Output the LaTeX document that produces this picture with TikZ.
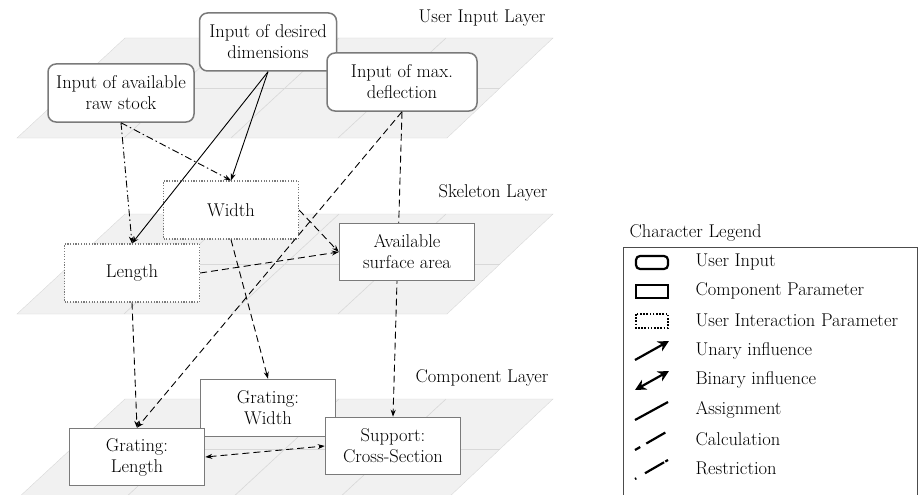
\documentclass[tikz,border=0pt]{standalone}
\usetikzlibrary{arrows.meta}
\pgfdeclarelayer{planes}
\pgfdeclarelayer{links}
\pgfsetlayers{planes,links,main}
\definecolor{planefill}{HTML}{F1F1F1}
\definecolor{planeline}{HTML}{D8D8D8}
\definecolor{boxline}{HTML}{7A7A7A}
\begin{document}
\begin{tikzpicture}[x=1pt,y=-1pt,>={Stealth[length=7pt,width=5pt]},font=\fontsize{18.5}{21}\selectfont]
  \tikzset{inputbox/.style={draw=boxline, line width=1.5pt, rounded corners=8pt, fill=white, minimum width=137pt, minimum height=58pt, align=center, inner sep=2pt},
    parambox/.style={draw=boxline, line width=1.5pt, fill=white, minimum width=135pt, minimum height=57pt, align=center, inner sep=2pt},
    interbox/.style={draw=boxline, line width=1.2pt, dash pattern=on 1.2pt off 1.5pt, fill=white, minimum width=135pt, minimum height=58pt, align=center, inner sep=2pt},
    assign/.style={line width=0.9pt},
    calcline/.style={line width=0.9pt, dash pattern=on 7pt off 4pt},
    restrict/.style={line width=0.9pt, dash pattern=on 7pt off 3pt on 1.5pt off 3pt},
    legsym/.style={line width=2.2pt}}
  \useasboundingbox (0,0) rectangle (918,495);
  \begin{pgfonlayer}{planes}
    \begin{scope}
      \clip (0,0) rectangle (918,495);
      \foreach \t in {38,214,399} {
        \filldraw[fill=planefill, draw=planeline] (125,\t) -- (553,\t) -- (447,{\t+100}) -- (17,{\t+100}) -- cycle;
        \draw[planeline, line width=0.6pt] (71,{\t+50}) -- (500,{\t+50});
        \foreach \x in {232,339,446}
          \draw[planeline, line width=0.6pt] (\x,\t) -- ({\x-108},{\t+100});
      }
      \draw[black!70, line width=1pt] (623,500) -- (623,247) -- (917,247) -- (917,500);
    \end{scope}
  \end{pgfonlayer}
  \node at (482,18) {User Input Layer};
  \node at (493,193) {Skeleton Layer};
  \node at (482,378) {Component Layer};
  \node[inputbox] (dims) at (268,42) {Input of desired\\dimensions};
  \node[inputbox, minimum width=146pt] (stock) at (121,93) {Input of available\\raw stock};
  \node[inputbox, minimum width=150pt] (defl) at (402,82) {Input of max.\\deflection};
  \node[interbox] (wid) at (231,210) {Width};
  \node[interbox] (len) at (132,273) {Length};
  \node[parambox] (area) at (407,252) {Available\\surface area};
  \node[parambox] (gwid) at (268,408) {Grating:\\Width};
  \node[parambox] (glen) at (137,457) {Grating:\\Length};
  \node[parambox] (supp) at (393,446) {Support:\\Cross-Section};
  \begin{pgfonlayer}{links}
    \draw[calcline,->] (defl.south) -- (supp.north);
  \end{pgfonlayer}
  \draw[assign,->] (dims.south) -- (len.north);
  \draw[assign,->] (dims.south) -- (wid.north);
  \draw[restrict,->] (stock.south) -- (len.north);
  \draw[restrict,->] (stock.south) -- (wid.north);
  \draw[calcline,->] (defl.south) -- (glen.north);
  \draw[calcline,->] (wid.east) -- (area.west);
  \draw[calcline,->] (len.east) -- (area.west);
  \draw[calcline,->] (wid.south) -- (gwid.north);
  \draw[calcline,->] (len.south) -- (glen.north);
  \draw[calcline,<->] (glen.east) -- (supp.west);
  \node[anchor=west] (legtitle) at (626,233) {Character Legend};
  \foreach \txt [count=\i] in {User Input, Component Parameter, User Interaction Parameter, Unary influence, Binary influence, Assignment, Calculation, Restriction}
    \node[anchor=west] (leg\i) at (692,{232+29.6*\i}) {\txt};
  \draw[legsym, rounded corners=4pt] (636,256) rectangle (668,269);
  \draw[legsym] (636,285) rectangle (668,298);
  \draw[line width=2pt, dash pattern=on 1.6pt off 1.6pt] (636,314) rectangle (668,328);
  \draw[legsym, -{Stealth[length=11pt,width=11pt]}] (635,360) -- (669,341);
  \draw[legsym, {Stealth[length=11pt,width=11pt]}-{Stealth[length=11pt,width=11pt]}] (635,390) -- (669,371);
  \draw[legsym] (635,420) -- (668,402);
  \draw[legsym, dash pattern=on 6pt off 7pt on 22pt] (635,450) -- (668,431);
  \draw[legsym, dash pattern=on 1.5pt off 10pt on 22pt] (635,479) -- (668,460);
\end{tikzpicture}
\end{document}
